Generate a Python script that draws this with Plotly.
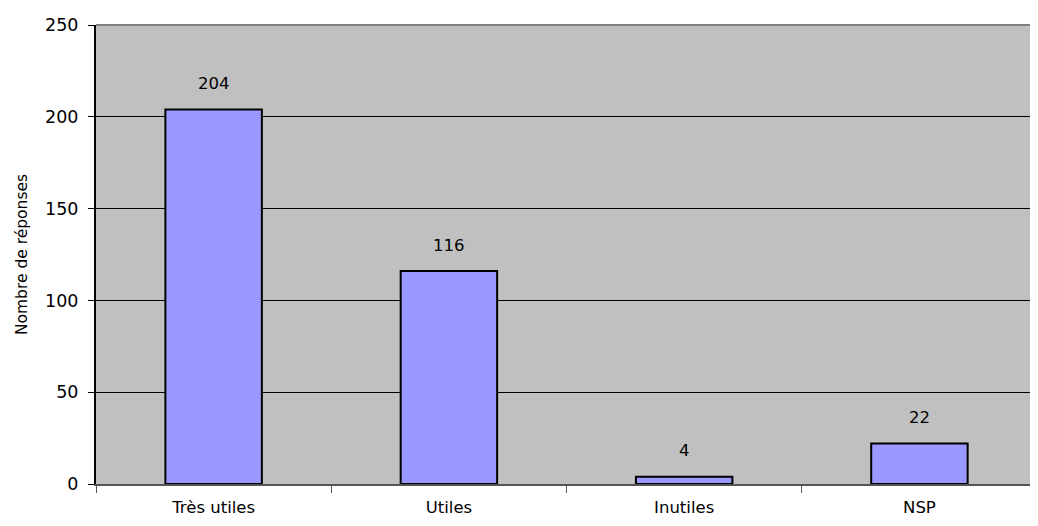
import plotly.graph_objects as go

categories = ["Très utiles", "Utiles", "Inutiles", "NSP"]
values = [204, 116, 4, 22]
y_ticks = [0, 50, 100, 150, 200, 250]

FONT = "DejaVu Sans, sans-serif"

fig = go.Figure()
fig.add_trace(go.Bar(
    x=categories, y=values, width=0.41,
    marker=dict(color="#9999FF", line=dict(color="black", width=2)),
    hoverinfo="skip",
))

for c, v in zip(categories, values):
    fig.add_annotation(x=c, y=v, text=str(v), showarrow=False,
                       yanchor="middle", yshift=26,
                       font=dict(family=FONT, size=16.5, color="black"))

fig.update_layout(
    width=1022, height=510,
    margin=dict(l=88, r=0, t=17, b=34),
    paper_bgcolor="white", plot_bgcolor="#C0C0C0",
    showlegend=False,
    font=dict(family=FONT, size=16, color="black"),
)
fig.update_xaxes(
    range=[-0.5, 3.47], automargin=False,
    showline=True, linecolor="#555555", linewidth=2,
    ticks="outside", tickson="boundaries", ticklen=7, tickcolor="#555555",
    showgrid=False, tickfont=dict(size=16.5), ticklabelstandoff=7,
)
fig.update_yaxes(
    range=[0, 250], tickvals=y_ticks, automargin=False,
    showline=True, linecolor="black", linewidth=2,
    ticks="outside", ticklen=6, tickcolor="black",
    showgrid=True, gridcolor="black", gridwidth=1,
    zeroline=False, ticklabelstandoff=6,
    title=dict(text="Nombre de réponses", font=dict(size=15.5), standoff=14),
    tickfont=dict(size=17.5),
)
fig.add_shape(type="line", xref="paper", yref="paper", x0=0, x1=1, y0=1, y1=1,
              line=dict(color="#808080", width=2))
fig.write_html("out.html")
